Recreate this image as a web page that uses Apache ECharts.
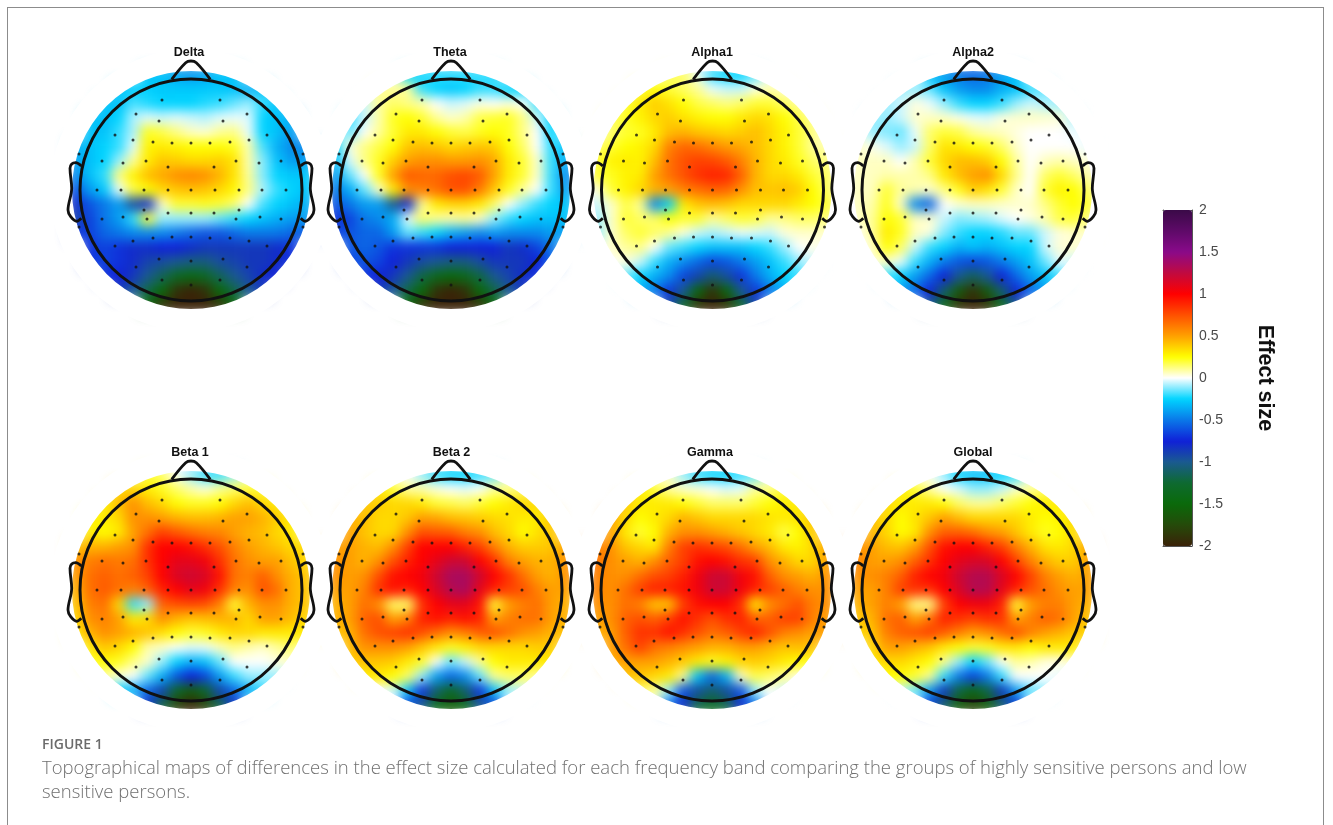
<!DOCTYPE html>
<html><head><meta charset="utf-8">
<style>
html,body{margin:0;padding:0;background:#fff;width:1333px;height:825px;overflow:hidden}
#maps,#top{position:absolute;left:0;top:0;width:1333px;height:825px}
#maps{filter:blur(6px)}
#frame{position:absolute;left:7px;top:7px;width:1317px;height:830px;border:1px solid #8c8c8c;box-sizing:border-box}
</style>
<script src="https://cdn.jsdelivr.net/npm/echarts@6/dist/echarts.min.js"></script>
</head><body>
<div id="maps"></div><div id="frame"></div><div id="top"></div>
<script>
const panelNames=['Delta','Theta','Alpha1','Alpha2','Beta 1','Beta 2','Gamma','Global'];
const panelCentersX=[191,451,712.5,973,191,451,712,973];
const panelCentersY=[190,190,190,190,590,590,590,590];
const titleCentersX=[189,450,712,973,190,451.5,710,973];
const colorbarTicks=[-2,2,0.5];
const caption=['FIGURE 1','Topographical maps of differences in the effect size calculated for each frequency band comparing the groups of highly sensitive persons and low','sensitive persons.'];
const colormap=['#3a2208','#254a0a','#0a6a0a','#0e6a30','#1a5a90','#1020d8','#0a78e8','#00d4ff','#ffffff','#ffff00','#ffa000','#ff5000','#ff0000','#c00a40','#8a0a8a','#5e0a68','#3a0a48'];
// sensor positions as offsets from the head centre
const electrodes=[[-29,90],[29,90],[-55,76],[56,76],[-32,69],[32,69],[-76,55],[76,55],[-58,50],[58,50],[-38,48],[-19,47],[0,47],[19,47],[39,48],[-112,36],[112,36],[-89,29],[-68,27],[-45,29],[45,29],[68,27],[90,29],[-23,23],[23,23],[-94,0],[-70,0],[-47,0],[-23,0],[0,0],[24,0],[48,0],[71,0],[95,0],[-47,-20],[-23,-23],[0,-23],[23,-23],[48,-20],[-68,-27],[69,-27],[-89,-29],[-44,-29],[45,-29],[90,-29],[-112,-37],[112,-37],[-38,-48],[-19,-47],[0,-47],[19,-48],[39,-48],[-58,-51],[58,-51],[-76,-56],[76,-56],[-32,-69],[0,-71],[32,-69],[-55,-77],[56,-77],[-29,-90],[29,-90],[0,-95]];
const nose=[[-19.3,110.7],[-5.3,127.3],[0,129],[5.3,127.3],[19.3,110.7]];
const earLeft=[[-109.7,24],[-115.3,27.3],[-119.3,26],[-121,21.7],[-119.3,1.7],[-123,-20],[-120.3,-26.7],[-114.3,-31.3],[-109.7,-28.3]];
const earRight=[[109.7,24],[115.3,27.3],[119.3,26],[121,21.7],[119.3,1.7],[123,-20],[120.3,-26.7],[114.3,-31.3],[109.7,-28.3]];

const deltaValues=[
[-.3,-.3,-.3,-.3,-.3,-.3,-.3,-.38,-.42,-.38,-.3,-.3,-.3,-.3,-.3,-.3,-.3],
[-.28,-.28,-.28,-.28,-.27,-.26,-.28,-.28,-.28,-.28,-.28,-.3,-.35,-.3,-.28,-.28,-.28],
[-.3,-.3,-.3,-.3,-.18,-.22,-.25,-.25,-.25,-.22,-.2,-.15,-.1,-.2,-.3,-.3,-.3],
[-.3,-.3,-.3,-.25,-.08,-.03,-.05,-.03,-.05,-.07,-.03,-.02,-.03,-.25,-.3,-.35,-.35],
[-.35,-.3,-.3,-.2,-.08,.22,.18,.12,.06,.04,.1,.12,-.02,-.25,-.3,-.4,-.4],
[-.35,-.3,-.25,-.2,-.03,.28,.3,.28,.25,.25,.25,.22,.08,-.18,-.35,-.45,-.45],
[-.38,-.3,-.25,-.1,.1,.3,.4,.38,.35,.35,.38,.32,.08,-.12,-.3,-.4,-.4],
[-.45,-.3,-.2,.12,.28,.42,.48,.55,.58,.55,.45,.32,.1,-.12,-.25,-.28,-.28],
[-.6,-.4,-.28,-.02,.18,.25,.35,.4,.42,.4,.35,.27,.12,-.08,-.2,-.25,-.3],
[-.8,-.6,-.5,-.4,-.95,-.7,.05,.2,.2,.22,.2,.14,0,-.18,-.25,-.3,-.35],
[-.9,-.65,-.5,-.4,-.2,.2,-.1,-.1,-.1,-.1,-.15,-.2,-.25,-.3,-.35,-.4,-.4],
[-.7,-.65,-.55,-.5,-.45,-.45,-.45,-.5,-.55,-.6,-.6,-.55,-.5,-.5,-.5,-.55,-.6],
[-.7,-.7,-.65,-.7,-.8,-.8,-.75,-.75,-.8,-.85,-.85,-.85,-.85,-.85,-.8,-.7,-.7],
[-.7,-.7,-.65,-.7,-.8,-.9,-.95,-1,-1.05,-1.05,-.95,-.9,-.85,-.85,-.8,-.7,-.7],
[-.7,-.7,-.7,-.75,-.85,-1,-1.15,-1.35,-1.45,-1.35,-1.15,-1,-.9,-.8,-.75,-.7,-.7],
[-.8,-.8,-.8,-.85,-1,-1.2,-1.5,-1.9,-2,-1.9,-1.5,-1.2,-1,-.85,-.8,-.8,-.8],
[-1.2,-1.2,-1.2,-1.2,-1.2,-1.5,-1.9,-2,-2,-2,-1.9,-1.5,-1.2,-1.2,-1.2,-1.2,-1.2]];
const thetaValues=[
[-.25,-.25,-.25,-.25,-.25,-.25,-.22,-.2,-.2,-.2,-.2,-.2,-.25,-.25,-.25,-.25,-.25],
[-.2,-.2,-.2,.1,.1,.1,-.2,-.25,-.28,-.25,-.2,-.2,-.25,-.25,-.25,-.25,-.25],
[-.1,-.05,-.05,.1,.15,.12,.08,0,-.05,-.03,.02,0,.03,0,-.2,-.2,-.2],
[-.2,-.2,-.05,.08,.22,.25,.2,.1,.05,.08,.18,.2,.22,.12,-.05,-.25,-.25],
[-.25,-.15,0,.1,.2,.3,.3,.25,.2,.18,.22,.25,.22,.12,0,-.25,-.3],
[-.25,.03,.12,.18,.25,.4,.42,.4,.35,.38,.4,.38,.25,.15,0,-.2,-.3],
[-.3,-.03,.12,.22,.38,.5,.55,.55,.52,.52,.55,.48,.3,.2,.05,-.2,-.35],
[-.4,-.15,0,.22,.5,.72,.68,.68,.75,.78,.72,.5,.3,.2,.05,-.2,-.45],
[-.5,-.35,-.15,.05,.3,.55,.6,.65,.75,.75,.62,.4,.22,.1,0,-.2,-.4],
[-.6,-.5,-.4,-.4,-1,-.8,.1,.3,.35,.35,.3,.15,0,-.1,-.2,-.25,-.3],
[-.7,-.65,-.5,-.45,-.35,-.03,.15,.1,.08,.1,.05,-.1,-.2,-.25,-.3,-.3,-.3],
[-.65,-.6,-.55,-.55,-.4,-.15,-.2,-.25,-.35,-.4,-.45,-.4,-.45,-.45,-.45,-.4,-.4],
[-.6,-.6,-.55,-.6,-.7,-.7,-.7,-.7,-.75,-.75,-.75,-.75,-.85,-.8,-.65,-.5,-.5],
[-.65,-.65,-.6,-.65,-.75,-.85,-.95,-1,-1.05,-1.05,-.95,-.85,-.85,-.85,-.75,-.55,-.5],
[-.7,-.7,-.7,-.75,-.85,-1,-1.2,-1.4,-1.5,-1.4,-1.2,-1,-.9,-.8,-.7,-.6,-.6],
[-.8,-.8,-.8,-.85,-1,-1.2,-1.5,-1.9,-2,-1.9,-1.5,-1.2,-1,-.85,-.75,-.7,-.7],
[-1,-1,-1,-1.1,-1.2,-1.5,-1.9,-2,-2,-2,-1.9,-1.5,-1.2,-1,-.9,-.9,-.9]];
const alpha1Values=[
[.15,.15,.15,.15,.15,.15,.15,-.02,-.2,-.25,-.25,-.15,-.1,-.05,-.05,-.05,-.05],
[.15,.15,.15,.2,.25,.2,.15,.1,-.02,-.05,-.05,.03,.08,.05,.05,.05,.05],
[.15,.15,.2,.3,.38,.32,.25,.18,.15,.12,.15,.2,.2,.15,.1,.1,.1],
[.15,.15,.22,.28,.35,.38,.32,.28,.25,.25,.3,.35,.32,.25,.18,.1,.1],
[.12,.15,.2,.22,.3,.42,.45,.4,.38,.35,.38,.42,.35,.28,.2,.12,.08],
[.15,.2,.25,.28,.35,.6,.68,.65,.58,.52,.48,.42,.35,.28,.2,.1,.08],
[.2,.28,.3,.28,.42,.65,.75,.8,.78,.72,.6,.45,.35,.3,.22,.15,.12],
[.2,.22,.28,.3,.5,.65,.75,.85,.9,.88,.7,.45,.35,.35,.3,.2,.15],
[.03,.2,.28,.35,.45,.5,.6,.65,.7,.68,.55,.42,.4,.42,.38,.25,.15],
[-.05,.05,.18,.1,-.45,-.25,.3,.4,.42,.4,.35,.35,.35,.35,.3,.25,.2],
[-.1,.05,.2,.15,.15,.25,.2,.2,.1,.15,.2,.18,.1,.12,.15,.15,.12],
[-.1,.05,.15,.2,.15,.1,.03,-.05,-.08,-.05,-.02,-.03,-.05,.03,.05,.05,.05],
[-.05,.05,.1,.12,0,-.15,-.2,-.25,-.3,-.3,-.3,-.25,-.2,-.1,0,.02,.02],
[-.1,0,.03,-.05,-.2,-.35,-.45,-.55,-.65,-.6,-.5,-.4,-.3,-.2,-.1,-.05,-.05],
[-.2,-.15,-.15,-.25,-.35,-.45,-.65,-.9,-1.1,-.95,-.7,-.5,-.35,-.25,-.2,-.1,-.1],
[-.3,-.3,-.3,-.35,-.5,-.7,-1,-1.5,-1.9,-1.5,-1,-.7,-.5,-.35,-.3,-.3,-.3],
[-.5,-.5,-.5,-.6,-.7,-.9,-1.3,-1.9,-2,-1.9,-1.3,-.9,-.7,-.6,-.5,-.5,-.5]];
const alpha2Values=[
[-.15,-.15,-.15,-.15,-.2,-.3,-.4,-.5,-.55,-.5,-.4,-.3,-.2,-.15,-.15,-.15,-.15],
[-.1,-.1,-.1,-.1,-.1,-.15,-.3,-.4,-.45,-.45,-.35,-.3,-.2,-.15,-.1,-.1,-.1],
[-.1,-.1,-.1,-.05,.03,-.02,-.1,-.2,-.25,-.25,-.2,-.1,-.05,-.08,-.1,-.1,-.1],
[-.1,-.1,-.1,-.05,.05,.06,.05,.02,-.02,-.03,.03,.05,.06,.05,.04,-.08,-.1],
[-.1,-.1,-.12,-.15,-.02,.15,.2,.18,.1,.07,.06,.03,0,0,0,-.02,-.1],
[.05,.02,-.03,-.1,-.05,.15,.32,.3,.25,.22,.15,.05,0,0,0,0,-.02],
[.06,.06,.06,0,.08,.2,.35,.42,.42,.38,.25,.1,0,.06,.08,.06,.03],
[.06,.06,.08,.08,.08,.12,.3,.42,.5,.55,.35,.12,0,.15,.2,.15,.08],
[.06,.06,.2,.1,.08,.05,.12,.22,.38,.32,.2,.06,0,.2,.28,.25,.15],
[.06,.08,.22,.05,-.45,-.55,0,.04,.06,.06,.05,.05,.05,.12,.2,.25,.2],
[.06,.1,.25,.2,.06,.05,-.05,-.12,-.1,-.08,-.03,0,.03,.08,.18,.2,.12],
[0,.1,.3,.22,.06,.03,-.12,-.2,-.25,-.25,-.22,-.15,-.15,-.05,.03,.05,.05],
[-.02,.05,.25,.15,-.05,-.2,-.25,-.35,-.3,-.35,-.3,-.25,-.25,-.05,.04,.05,.05],
[-.05,.03,.05,-.02,-.2,-.35,-.5,-.6,-.65,-.6,-.5,-.4,-.3,-.15,-.02,-.05,-.05],
[-.2,-.15,-.2,-.25,-.4,-.55,-.75,-1,-1.15,-1,-.75,-.55,-.4,-.3,-.2,-.15,-.15],
[-.3,-.3,-.35,-.4,-.55,-.75,-1.1,-1.6,-1.9,-1.6,-1.1,-.75,-.55,-.4,-.35,-.3,-.3],
[-.5,-.5,-.55,-.6,-.75,-1,-1.4,-1.9,-2,-1.9,-1.4,-1,-.75,-.6,-.5,-.5,-.5]];
const beta1Values=[
[.3,.3,.3,.3,.25,.2,.15,0,-.1,-.2,-.2,-.1,0,.1,.2,.2,.2],
[.35,.35,.35,.35,.35,.3,.22,.15,.08,.03,.1,.15,.2,.2,.2,.2,.2],
[.3,.3,.3,.42,.55,.42,.35,.25,.22,.22,.25,.35,.42,.35,.3,.3,.3],
[.28,.28,.3,.35,.55,.55,.5,.45,.42,.42,.45,.5,.5,.45,.38,.3,.3],
[.3,.3,.25,.3,.5,.65,.8,.72,.65,.6,.58,.5,.45,.42,.35,.3,.3],
[.4,.45,.45,.5,.55,.85,1,1,.95,.85,.75,.6,.5,.45,.4,.35,.35],
[.55,.6,.65,.62,.65,.85,1,1.1,1.1,1.05,.85,.65,.55,.5,.5,.4,.35],
[.5,.65,.7,.65,.7,.8,1,1.15,1.2,1.15,.95,.65,.6,.7,.55,.45,.4],
[.45,.65,.72,.65,.6,.7,.9,1,1.1,1.05,.85,.6,.55,.75,.65,.45,.4],
[.4,.6,.65,.35,-.2,-.1,.7,.75,.78,.75,.6,.2,.45,.55,.55,.45,.4],
[.35,.55,.6,.5,.3,.35,.55,.45,.4,.42,.45,.45,.35,.5,.5,.42,.35],
[.3,.45,.55,.5,.45,.4,.32,.25,.2,.22,.3,.35,.35,.3,.3,.3,.3],
[.25,.3,.4,.35,.25,.08,.05,0,-.03,-.02,.06,.12,.08,.05,.1,.15,.2],
[.15,.2,.25,.22,.12,.05,-.1,-.25,-.35,-.3,-.15,0,0,0,.03,.05,.05],
[0,0,.1,.03,0,-.15,-.35,-.6,-.75,-.65,-.4,-.2,-.1,-.1,-.1,-.1,-.1],
[-.15,-.15,-.15,-.25,-.35,-.55,-.9,-1.3,-1.6,-1.3,-.9,-.55,-.35,-.2,-.15,-.15,-.15],
[-.4,-.4,-.4,-.45,-.6,-.8,-1.2,-1.8,-2,-1.8,-1.2,-.8,-.6,-.45,-.4,-.4,-.4]];
const beta2Values=[
[.2,.2,.2,.2,.15,0,-.1,-.2,-.25,-.25,-.2,-.15,-.1,.05,.1,.1,.1],
[.3,.3,.3,.3,.2,.1,.08,.03,0,-.02,0,.1,.12,.15,.2,.3,.3],
[.4,.4,.4,.38,.35,.35,.3,.2,.18,.15,.2,.25,.3,.35,.35,.4,.4],
[.45,.45,.42,.35,.35,.4,.5,.48,.42,.4,.38,.35,.33,.3,.3,.4,.4],
[.5,.5,.4,.35,.35,.55,.75,.72,.7,.6,.55,.42,.35,.25,.32,.4,.45],
[.5,.5,.45,.42,.55,.8,1,1,1,.9,.8,.6,.45,.38,.38,.4,.5],
[.55,.5,.45,.55,.75,.9,1,1.1,1.2,1.2,1,.85,.6,.5,.45,.45,.55],
[.55,.5,.55,.75,.95,1,1.05,1.2,1.35,1.35,1.2,1,.85,.65,.5,.45,.55],
[.5,.5,.6,.85,.95,.9,1,1.15,1.3,1.35,1.1,.9,.8,.75,.6,.5,.5],
[.45,.5,.65,.55,.15,.15,.85,1,1.1,1.1,.95,.2,.5,.6,.65,.5,.45],
[.45,.5,.7,.75,.5,.6,.9,.95,.9,.95,.9,.5,.6,.65,.65,.5,.45],
[.4,.45,.65,.75,.8,.85,.75,.65,.55,.6,.7,.75,.65,.55,.5,.45,.4],
[.4,.42,.55,.55,.55,.5,.4,.3,.22,.28,.35,.35,.35,.35,.38,.38,.35],
[.35,.38,.4,.4,.38,.3,.2,0,-.15,-.05,.1,.25,.3,.3,.3,.3,.3],
[.3,.3,.3,.3,.25,.15,-.1,-.4,-.55,-.45,-.15,.1,.15,.15,.1,.1,.1],
[.05,.05,.05,0,-.05,-.3,-.7,-1.1,-1.35,-1.1,-.7,-.3,-.1,-.05,0,0,0],
[-.2,-.2,-.2,-.25,-.4,-.65,-1,-1.4,-1.6,-1.4,-1,-.65,-.4,-.25,-.2,-.2,-.2]];
const gammaValues=[
[.25,.25,.25,.25,.2,.05,-.1,-.2,-.25,-.25,-.2,-.15,-.1,.05,.1,.15,.15],
[.4,.4,.35,.3,.2,.1,.05,.03,0,-.03,-.02,.1,.12,.2,.25,.3,.3],
[.45,.45,.4,.3,.3,.3,.25,.2,.15,.15,.15,.2,.25,.3,.3,.4,.4],
[.5,.5,.35,.25,.3,.35,.45,.4,.35,.35,.35,.35,.32,.3,.32,.4,.45],
[.55,.5,.3,.2,.25,.45,.55,.55,.5,.45,.4,.35,.3,.18,.25,.4,.5],
[.6,.55,.4,.35,.3,.6,.8,.85,.8,.75,.65,.5,.42,.3,.28,.35,.5],
[.65,.55,.5,.45,.55,.7,.8,.95,1,.95,.85,.8,.55,.45,.35,.35,.5],
[.6,.55,.55,.65,.75,.8,.9,1.05,1.2,1.2,1.05,.95,.7,.55,.5,.45,.55],
[.6,.55,.65,.8,.9,.9,.95,1.05,1.2,1.2,1.05,.9,.8,.7,.6,.55,.55],
[.55,.55,.65,.6,.4,.4,.8,.95,1,1,.85,.3,.55,.65,.75,.6,.55],
[.5,.55,.7,.75,.7,.8,.95,.85,.75,.85,.9,.7,.7,.8,.8,.6,.5],
[.45,.5,.7,.85,.85,.95,.85,.75,.65,.7,.8,.9,.75,.6,.55,.5,.5],
[.45,.5,.65,.8,.65,.6,.55,.5,.45,.45,.5,.5,.45,.4,.42,.4,.4],
[.45,.45,.5,.5,.5,.45,.38,.3,.22,.28,.35,.38,.35,.3,.25,.2,.2],
[.35,.35,.4,.4,.35,.3,.1,-.3,-.55,-.35,.05,.18,.15,.1,.02,0,0],
[.1,.1,.15,.15,.1,-.1,-.6,-.95,-1.1,-.95,-.6,-.1,0,-.05,-.05,-.05,-.05],
[-.2,-.2,-.2,-.2,-.3,-.5,-.8,-1.2,-1.35,-1.2,-.8,-.5,-.3,-.2,-.2,-.2,-.2]];
const globalValues=[
[.2,.2,.2,.2,.15,0,-.1,-.25,-.3,-.3,-.25,-.2,-.1,.03,.1,.1,.1],
[.3,.3,.3,.3,.2,.1,0,-.03,-.1,-.1,-.05,.05,.1,.15,.2,.3,.3],
[.35,.35,.35,.3,.3,.3,.25,.15,.1,.1,.15,.2,.25,.3,.3,.35,.35],
[.4,.4,.35,.25,.32,.4,.5,.42,.35,.35,.35,.35,.3,.25,.28,.35,.4],
[.45,.45,.35,.25,.3,.55,.7,.7,.65,.55,.5,.4,.3,.22,.25,.35,.42],
[.55,.5,.42,.4,.5,.75,.95,1,1,.9,.8,.6,.45,.32,.3,.35,.5],
[.6,.5,.5,.55,.7,.85,1,1.1,1.15,1.15,1,.8,.6,.45,.38,.38,.5],
[.55,.55,.6,.7,.9,1,1.05,1.2,1.3,1.3,1.15,1,.8,.6,.5,.45,.5],
[.5,.5,.6,.8,.85,.85,1,1.15,1.3,1.3,1.1,.9,.75,.65,.55,.5,.5],
[.45,.5,.6,.5,.12,.12,.8,1,1.05,1.05,.9,.2,.5,.6,.6,.5,.45],
[.4,.45,.65,.7,.5,.65,.9,.85,.8,.85,.85,.5,.6,.7,.65,.5,.4],
[.35,.4,.6,.7,.75,.8,.7,.6,.5,.55,.65,.75,.6,.5,.45,.4,.35],
[.3,.35,.5,.5,.45,.4,.3,.25,.2,.22,.3,.3,.25,.3,.3,.3,.3],
[.3,.3,.35,.35,.3,.25,.1,-.1,-.25,-.15,0,.1,.08,.03,.02,.05,.05],
[.2,.2,.25,.25,.2,.1,-.2,-.5,-.65,-.5,-.2,0,0,0,-.02,-.05,-.05],
[-.05,-.05,-.05,-.05,-.15,-.4,-.85,-1.2,-1.45,-1.2,-.85,-.4,-.15,-.1,-.1,-.1,-.1],
[-.3,-.3,-.3,-.35,-.45,-.7,-1.1,-1.6,-1.8,-1.6,-1.1,-.7,-.45,-.35,-.3,-.3,-.3]];
const panelValues=[deltaValues,thetaValues,alpha1Values,alpha2Values,beta1Values,beta2Values,gammaValues,globalValues];

const HALF=122.5, VIEW=141, DISC=119, HEAD=111, CELL=2*HALF/17, KEEP=125;
const indices=panelValues[0].map((_,i)=>i);
const mapChart=echarts.init(document.getElementById('maps'),null,{renderer:'canvas'});
mapChart.setOption({
  animation:false,
  visualMap:{show:false,min:-2,max:2,seriesIndex:panelNames.map((_,i)=>i),inRange:{color:colormap}},
  grid:panelNames.map((_,i)=>({left:panelCentersX[i]-HALF,top:panelCentersY[i]-HALF,width:2*HALF,height:2*HALF})),
  xAxis:panelNames.map((_,i)=>({type:'category',gridIndex:i,data:indices,show:false})),
  yAxis:panelNames.map((_,i)=>({type:'category',gridIndex:i,data:indices,inverse:true,show:false})),
  series:panelNames.map((n,i)=>({type:'heatmap',name:n,xAxisIndex:i,yAxisIndex:i,progressive:0,
    data:panelValues[i].flatMap((row,y)=>row.map((v,x)=>[x,y,v])).filter(d=>Math.hypot(d[0]-8,d[1]-8)*CELL<KEEP)}))
});

const top_=echarts.init(document.getElementById('top'),null,{renderer:'canvas'});
const topGrids=panelNames.map((_,i)=>({left:panelCentersX[i]-VIEW,top:panelCentersY[i]-VIEW,width:2*VIEW,height:2*VIEW}));
topGrids.push({left:1163,top:210,width:29,height:336});
const xAxes=panelNames.map((_,i)=>({type:'value',gridIndex:i,min:-VIEW,max:VIEW,show:false}));
const yAxes=panelNames.map((_,i)=>({type:'value',gridIndex:i,min:-VIEW,max:VIEW,show:false}));
const barLine={lineStyle:{color:'#555',width:1}};
xAxes.push({type:'value',gridIndex:8,min:0,max:1,position:'bottom',axisLine:{show:true,...barLine,onZero:false},axisTick:{show:false},axisLabel:{show:false},splitLine:{show:false}});
xAxes.push({type:'value',gridIndex:8,min:0,max:1,position:'top',axisLine:{show:true,...barLine,onZero:false},axisTick:{show:false},axisLabel:{show:false},splitLine:{show:false}});
yAxes.push({type:'value',gridIndex:8,min:colorbarTicks[0],max:colorbarTicks[1],interval:colorbarTicks[2],position:'right',
  axisLine:{show:true,...barLine,onZero:false},axisTick:{show:true,inside:true,length:3,lineStyle:{color:'#444'}},splitLine:{show:false},
  axisLabel:{color:'#4a4a4a',fontSize:14,margin:7,fontFamily:'Liberation Sans'},
  name:'Effect size',nameLocation:'middle',nameGap:62,nameRotate:-90,
  nameTextStyle:{fontSize:21.5,fontWeight:'bold',color:'#111',fontFamily:'Liberation Sans'}});
yAxes.push({type:'value',gridIndex:8,min:colorbarTicks[0],max:colorbarTicks[1],position:'left',axisLine:{show:true,...barLine,onZero:false},axisTick:{show:false},axisLabel:{show:false},splitLine:{show:false}});

const series=[];
panelNames.forEach((n,i)=>{
  const ax={xAxisIndex:i,yAxisIndex:i,silent:true,clip:false};
  series.push({type:'custom',...ax,z:2,data:[[0,0]],coordinateSystem:'cartesian2d',renderItem:(p,api)=>{
    const c=api.coord([0,0]);
    return {type:'group',children:[
      {type:'ring',shape:{cx:c[0],cy:c[1],r:VIEW,r0:DISC},style:{fill:'#fff'}},
      {type:'circle',shape:{cx:c[0],cy:c[1],r:HEAD},style:{fill:'none',stroke:'#111',lineWidth:3}}
    ]};
  }});
  [nose,earLeft,earRight].forEach(part=>series.push({type:'line',...ax,z:3,data:part,smooth:0.35,symbol:'none',
    lineStyle:{color:'#111',width:2.8}}));
  series.push({type:'scatter',...ax,z:4,data:electrodes,symbolSize:3,itemStyle:{color:'#111'}});
});
const colorbarSeries=series.length;
series.push({type:'line',xAxisIndex:8,yAxisIndex:8,data:[],silent:true});

top_.setOption({
  animation:false,
  title:panelNames.map((n,i)=>({text:n,left:titleCentersX[i],top:panelCentersY[i]-144,textAlign:'center',padding:0,
    textStyle:{fontSize:12.5,fontWeight:'bold',color:'#111',fontFamily:'Liberation Sans'}})),
  grid:topGrids,xAxis:xAxes,yAxis:yAxes,series,
  visualMap:{type:'continuous',show:true,min:-2,max:2,seriesIndex:colorbarSeries,inRange:{color:colormap},
    left:1163,top:210,itemWidth:29,itemHeight:336,padding:0,calculable:false,hoverLink:false,text:null,z:1},
  graphic:[
    {type:'text',left:42,top:738,silent:true,style:{text:caption[0],fill:'#6b6b6b',font:'600 14px "Open Sans"'}},
    {type:'text',left:42,top:759,silent:true,style:{text:caption[1],fill:'#707070',font:'300 18.5px "Open Sans"'}},
    {type:'text',left:42,top:783,silent:true,style:{text:caption[2],fill:'#707070',font:'300 18.5px "Open Sans"'}}
  ]
});
</script>
</body></html>
